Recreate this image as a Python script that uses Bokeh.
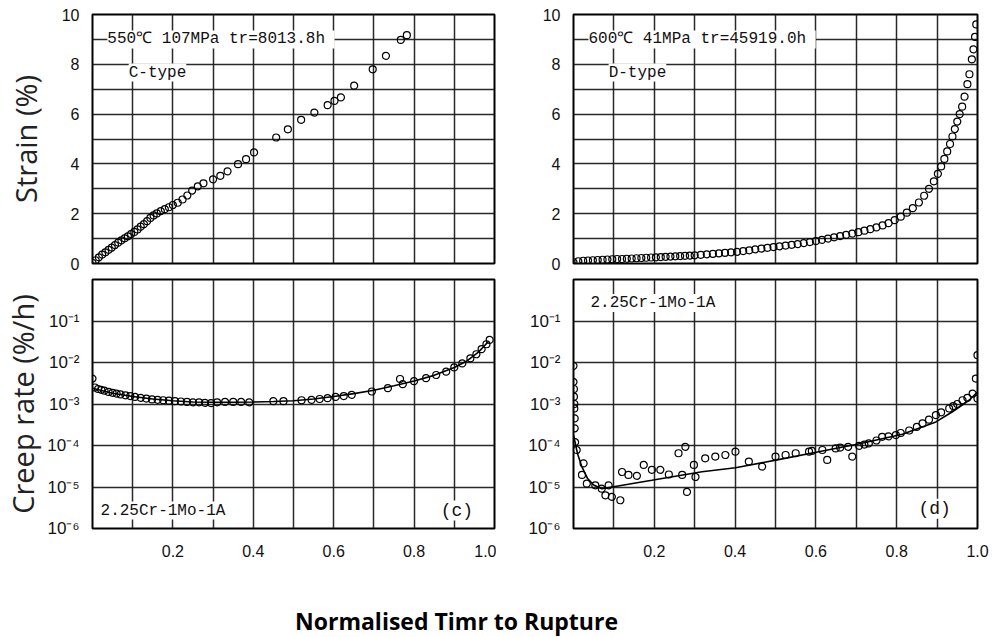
from bokeh.plotting import figure
from bokeh.models import FixedTicker, Range1d, Label, CustomJSTickFormatter
from bokeh.layouts import column, row
from bokeh.embed import file_html
from bokeh.resources import INLINE

# ---------------- data ----------------
# (a) 550C 107MPa strain vs normalised time
tl_t = [0.000, 0.008, 0.016, 0.024, 0.032, 0.040, 0.048, 0.056, 0.064, 0.072,
        0.080, 0.088, 0.096, 0.104, 0.112, 0.120, 0.128, 0.136, 0.144, 0.152,
        0.160, 0.170, 0.180, 0.190, 0.200, 0.212, 0.224, 0.236, 0.248, 0.262,
        0.276, 0.300, 0.318, 0.336, 0.362, 0.382, 0.402, 0.457, 0.486, 0.519,
        0.552, 0.585, 0.602, 0.618, 0.651, 0.697, 0.730, 0.767, 0.782]
tl_strain = [0.03, 0.13, 0.25, 0.36, 0.45, 0.55, 0.64, 0.74, 0.84, 0.93,
             1.01, 1.09, 1.18, 1.27, 1.37, 1.48, 1.58, 1.70, 1.83, 1.93,
             2.01, 2.10, 2.18, 2.26, 2.35, 2.44, 2.57, 2.73, 2.93, 3.10,
             3.22, 3.38, 3.52, 3.70, 3.99, 4.19, 4.46, 5.06, 5.39, 5.77,
             6.06, 6.36, 6.53, 6.67, 7.14, 7.80, 8.34, 8.98, 9.17]

# (b) 600C 41MPa strain vs normalised time
tr_t = [0.000, 0.012, 0.024, 0.036, 0.048, 0.060, 0.072, 0.084, 0.096, 0.108,
        0.120, 0.132, 0.144, 0.156, 0.168, 0.180, 0.192, 0.204, 0.216, 0.228,
        0.240, 0.252, 0.264, 0.276, 0.288, 0.300, 0.315, 0.330, 0.345, 0.360,
        0.375, 0.390, 0.405, 0.420, 0.435, 0.450, 0.465, 0.480, 0.495, 0.510,
        0.525, 0.540, 0.555, 0.570, 0.585, 0.600, 0.615, 0.630, 0.645, 0.660,
        0.675, 0.690, 0.705, 0.720, 0.735, 0.750, 0.765, 0.780, 0.795, 0.810,
        0.825, 0.840, 0.855, 0.868, 0.880, 0.892, 0.902, 0.910, 0.918, 0.925,
        0.932, 0.938, 0.944, 0.950, 0.956, 0.962, 0.968, 0.975, 0.980, 0.986,
        0.990, 0.994, 0.997]
tr_strain = [0.05, 0.09, 0.11, 0.12, 0.13, 0.14, 0.15, 0.16, 0.17, 0.18,
             0.18, 0.19, 0.20, 0.21, 0.22, 0.23, 0.24, 0.25, 0.26, 0.27,
             0.28, 0.29, 0.30, 0.31, 0.32, 0.33, 0.35, 0.37, 0.39, 0.41,
             0.43, 0.45, 0.47, 0.50, 0.53, 0.57, 0.60, 0.63, 0.66, 0.69,
             0.72, 0.75, 0.78, 0.82, 0.86, 0.90, 0.95, 1.00, 1.05, 1.10,
             1.15, 1.20, 1.26, 1.32, 1.38, 1.45, 1.53, 1.62, 1.74, 1.88,
             2.04, 2.22, 2.45, 2.72, 3.00, 3.30, 3.60, 3.90, 4.20, 4.50,
             4.80, 5.10, 5.40, 5.70, 6.00, 6.30, 6.70, 7.20, 7.60, 8.20,
             8.60, 9.10, 9.60]

# (c) creep rate, 550C
bl_t = [0.000, 0.006, 0.014, 0.022, 0.030, 0.040, 0.050, 0.060, 0.070, 0.082,
        0.094, 0.106, 0.120, 0.134, 0.148, 0.162, 0.176, 0.190, 0.205, 0.220,
        0.235, 0.250, 0.265, 0.280, 0.295, 0.310, 0.330, 0.350, 0.370, 0.390,
        0.450, 0.475, 0.520, 0.545, 0.565, 0.585, 0.605, 0.625, 0.645, 0.695,
        0.735, 0.765, 0.772, 0.800, 0.830, 0.855, 0.880, 0.900, 0.920, 0.940,
        0.955, 0.968, 0.980, 0.988]
bl_rate = [4.1e-3, 2.5e-3, 2.3e-3, 2.2e-3, 2.1e-3, 1.95e-3, 1.86e-3, 1.78e-3, 1.70e-3, 1.62e-3,
           1.55e-3, 1.48e-3, 1.41e-3, 1.35e-3, 1.29e-3, 1.26e-3, 1.23e-3, 1.20e-3, 1.17e-3, 1.15e-3,
           1.12e-3, 1.10e-3, 1.10e-3, 1.07e-3, 1.05e-3, 1.10e-3, 1.12e-3, 1.12e-3, 1.12e-3, 1.10e-3,
           1.17e-3, 1.17e-3, 1.23e-3, 1.26e-3, 1.32e-3, 1.38e-3, 1.48e-3, 1.55e-3, 1.66e-3, 2.0e-3,
           2.4e-3, 4.0e-3, 3.0e-3, 3.55e-3, 4.2e-3, 5.0e-3, 6.0e-3, 7.6e-3, 9.5e-3, 1.26e-2,
           1.58e-2, 2.1e-2, 2.75e-2, 3.5e-2]
bl_fit_t = [0.0, 0.05, 0.1, 0.15, 0.2, 0.25, 0.3, 0.35, 0.4, 0.45, 0.5, 0.55,
            0.6, 0.65, 0.7, 0.75, 0.8, 0.85, 0.9, 0.93, 0.96, 0.985]
bl_fit_rate = [2.4e-3, 1.82e-3, 1.51e-3, 1.32e-3, 1.2e-3, 1.12e-3, 1.1e-3, 1.1e-3, 1.12e-3,
               1.15e-3, 1.2e-3, 1.32e-3, 1.51e-3, 1.78e-3, 2.14e-3, 2.75e-3, 3.6e-3, 4.9e-3,
               7.6e-3, 1.07e-2, 1.78e-2, 3.2e-2]

# (d) creep rate, 600C
br_t = [0.000, 0.000, 0.001, 0.001, 0.002, 0.002, 0.003, 0.003, 0.004, 0.008,
        0.025, 0.021, 0.033, 0.054, 0.070, 0.079, 0.095, 0.116, 0.087, 0.120,
        0.136, 0.157, 0.174, 0.194, 0.215, 0.236, 0.260, 0.277, 0.269, 0.281,
        0.298, 0.302, 0.326, 0.351, 0.376, 0.401, 0.434, 0.467, 0.500, 0.525,
        0.550, 0.583, 0.590, 0.616, 0.628, 0.649, 0.660, 0.680, 0.690, 0.707,
        0.720, 0.731, 0.750, 0.764, 0.780, 0.798, 0.810, 0.831, 0.850, 0.864,
        0.880, 0.897, 0.910, 0.930, 0.940, 0.950, 0.963, 0.975, 0.988, 0.996,
        1.000, 1.000]
br_rate = [8.3e-3, 3.4e-3, 2.3e-3, 1.5e-3, 1.0e-3, 7.8e-4, 4.5e-4, 2.6e-4, 1.2e-4, 7.8e-5,
           3.7e-5, 1.95e-5, 1.2e-5, 1.1e-5, 9.1e-6, 6.3e-6, 5.8e-6, 4.8e-6, 1.1e-5, 2.3e-5,
           1.95e-5, 1.86e-5, 3.4e-5, 2.6e-5, 2.6e-5, 2.0e-5, 6.5e-5, 9.3e-5, 1.95e-5, 7.6e-6,
           3.4e-5, 1.74e-5, 4.9e-5, 5.4e-5, 5.9e-5, 7.1e-5, 4.1e-5, 3.1e-5, 5.4e-5, 5.9e-5,
           6.5e-5, 7.1e-5, 7.4e-5, 7.8e-5, 4.5e-5, 8.5e-5, 8.9e-5, 9.3e-5, 5.4e-5, 9.8e-5,
           1.05e-4, 1.12e-4, 1.32e-4, 1.62e-4, 1.66e-4, 1.78e-4, 2.0e-4, 2.3e-4, 2.8e-4, 3.4e-4,
           4.2e-4, 5.4e-4, 6.3e-4, 7.8e-4, 8.9e-4, 1.0e-3, 1.23e-3, 1.41e-3, 1.78e-3, 4.1e-3,
           1.35e-3, 1.5e-2]
br_fit_t = [0.0, 0.01, 0.02, 0.035, 0.05, 0.07, 0.194, 0.318, 0.401, 0.504,
            0.607, 0.711, 0.814, 0.897, 0.938, 0.979, 1.0]
br_fit_rate = [1.8e-4, 6.3e-5, 3.2e-5, 1.6e-5, 1.12e-5, 9.1e-6, 1.45e-5, 2.34e-5, 2.9e-5,
               4.5e-5, 7.1e-5, 1.12e-4, 1.86e-4, 3.7e-4, 6.5e-4, 1.23e-3, 1.95e-3]

# ticks and labels
x_ticks = [0.2, 0.4, 0.6, 0.8, 1.0]
x_tick_labels = ["0.2", "0.4", "0.6", "0.8", "1.0"]
x_grid = [0.1, 0.2, 0.3, 0.4, 0.5, 0.6, 0.7, 0.8, 0.9]
strain_ticks = [0, 2, 4, 6, 8, 10]
strain_tick_labels = ["0", "2", "4", "6", "8", "10"]
strain_grid = [1, 2, 3, 4, 5, 6, 7, 8, 9]
rate_ticks = [1e-6, 1e-5, 1e-4, 1e-3, 1e-2, 1e-1]
rate_tick_labels = ["10\u207b\u2076", "10\u207b\u2075", "10\u207b\u2074",
                    "10\u207b\u00b3", "10\u207b\u00b2", "10\u207b\u00b9"]
rate_grid = [1e-5, 1e-4, 1e-3, 1e-2, 1e-1]

# ---------------- styling helpers ----------------
LBL_FONT = "Liberation Mono"
TICK_FONT = "Liberation Sans"
AX_FONT = "Open Sans"


def fmt(tks, lbls, log=False):
    code = """
    let best = -1, bd = 1e9;
    for (let i = 0; i < tk.length; i++) {
        const d = USELOG ? Math.abs(Math.log10(tk[i]) - Math.log10(tick)) : Math.abs(tk[i] - tick);
        if (d < bd) { bd = d; best = i; }
    }
    return (best >= 0 && bd < 1e-6) ? lb[best] : "";
    """.replace("USELOG", "true" if log else "false")
    return CustomJSTickFormatter(args=dict(tk=tks, lb=lbls), code=code)


def make(width, height, log, bl, br, bt, bb, show_x):
    yr = Range1d(1e-6, 1.0) if log else Range1d(0, 10)
    p = figure(width=width, height=height, x_range=Range1d(0, 1), y_range=yr,
               y_axis_type="log" if log else "linear",
               output_backend="svg", toolbar_location=None,
               min_border_left=bl, min_border_right=br,
               min_border_top=bt, min_border_bottom=bb)
    p.outline_line_color = "black"
    p.outline_line_width = 2
    p.outline_line_alpha = 1
    p.background_fill_color = "white"
    p.border_fill_color = "white"
    for g, tk in ((p.xgrid, x_grid), (p.ygrid, rate_grid if log else strain_grid)):
        g.ticker = FixedTicker(ticks=tk)
        g.grid_line_color = "#1e1e1e"
        g.grid_line_width = 1.5
        g.grid_line_alpha = 0.95
    ya = p.yaxis[0]
    if log:
        ya.ticker = FixedTicker(ticks=rate_ticks)
        ya.formatter = fmt(rate_ticks, rate_tick_labels, log=True)
    else:
        ya.ticker = FixedTicker(ticks=strain_ticks)
        ya.formatter = fmt(strain_ticks, strain_tick_labels)
    ya.axis_line_color = None
    ya.major_tick_line_color = None
    ya.minor_tick_line_color = None
    ya.major_label_standoff = 7
    ya.major_label_text_font = TICK_FONT
    ya.major_label_text_font_size = "17px" if log else "16px"
    ya.major_label_text_color = "#111111"
    xa = p.xaxis[0]
    if show_x:
        xa.ticker = FixedTicker(ticks=x_ticks)
        xa.formatter = fmt(x_ticks, x_tick_labels)
        xa.axis_line_color = None
        xa.major_tick_line_color = None
        xa.minor_tick_line_color = None
        xa.major_label_standoff = 10
        xa.major_label_text_font = TICK_FONT
        xa.major_label_text_font_size = "16px"
        xa.major_label_text_color = "#111111"
    else:
        xa.visible = False
    return p


def add_label(p, x, y, text, size="16px"):
    p.add_layout(Label(x=x, y=y, text=text, text_font=LBL_FONT, text_font_size=size,
                       text_baseline="middle", text_align="left", text_color="#111111",
                       background_fill_color="white"))


def axis_title(p, text, standoff):
    ya = p.yaxis[0]
    ya.axis_label = text
    ya.axis_label_text_font = AX_FONT
    ya.axis_label_text_font_size = "29px"
    ya.axis_label_text_font_style = "normal"
    ya.axis_label_text_color = "#222222"
    ya.axis_label_standoff = standoff


MK = dict(marker="circle", size=7, fill_color=None, line_color="black", line_width=1.2)

# top-left
tl = make(496, 272, False, 92, 2, 14, 9, False)
tl.scatter(tl_t, tl_strain, **MK)
add_label(tl, 0.037, 9.0, "550\u2103 107MPa  tr=8013.8h")
add_label(tl, 0.09, 7.67, "C-type")
axis_title(tl, "Strain (%)", 14)

# top-right
tr = make(506, 272, False, 77, 25, 14, 9, False)
tr.scatter(tr_t, tr_strain, **MK)
add_label(tr, 0.037, 9.0, "600\u2103 41MPa  tr=45919.0h")
add_label(tr, 0.087, 7.67, "D-type")

# bottom-left
bl = make(496, 296, True, 92, 2, 7, 40, True)
bl.line(bl_fit_t, bl_fit_rate, line_color="black", line_width=1.6)
bl.scatter(bl_t, bl_rate, **MK)
add_label(bl, 0.02, 2.7e-6, "2.25Cr-1Mo-1A")
add_label(bl, 0.866, 2.7e-6, "(c)", "18px")
axis_title(bl, "Creep rate (%/h)", 2)

# bottom-right
br = make(506, 296, True, 77, 25, 7, 40, True)
br.line(br_fit_t, br_fit_rate, line_color="black", line_width=1.6)
br.scatter(br_t, br_rate, **MK)
add_label(br, 0.042, 0.27, "2.25Cr-1Mo-1A")
add_label(br, 0.854, 3.0e-6, "(d)", "18px")

# shared x title
tf = figure(width=1002, height=69, x_range=Range1d(0, 1002), y_range=Range1d(0, 69),
            x_axis_location=None, y_axis_location=None, output_backend="svg",
            toolbar_location=None, min_border=0, min_border_left=0, min_border_right=0,
            min_border_top=0, min_border_bottom=0)
tf.outline_line_color = None
tf.xgrid.visible = False
tf.ygrid.visible = False
tf.add_layout(Label(x=456, y=17, text="Normalised Timr to Rupture", text_font=AX_FONT,
                    text_font_size="23px", text_font_style="bold", text_align="center",
                    text_baseline="middle", text_color="black"))

layout = column(row(tl, tr), row(bl, br), tf)
open("out.html", "w").write(file_html(layout, INLINE))
